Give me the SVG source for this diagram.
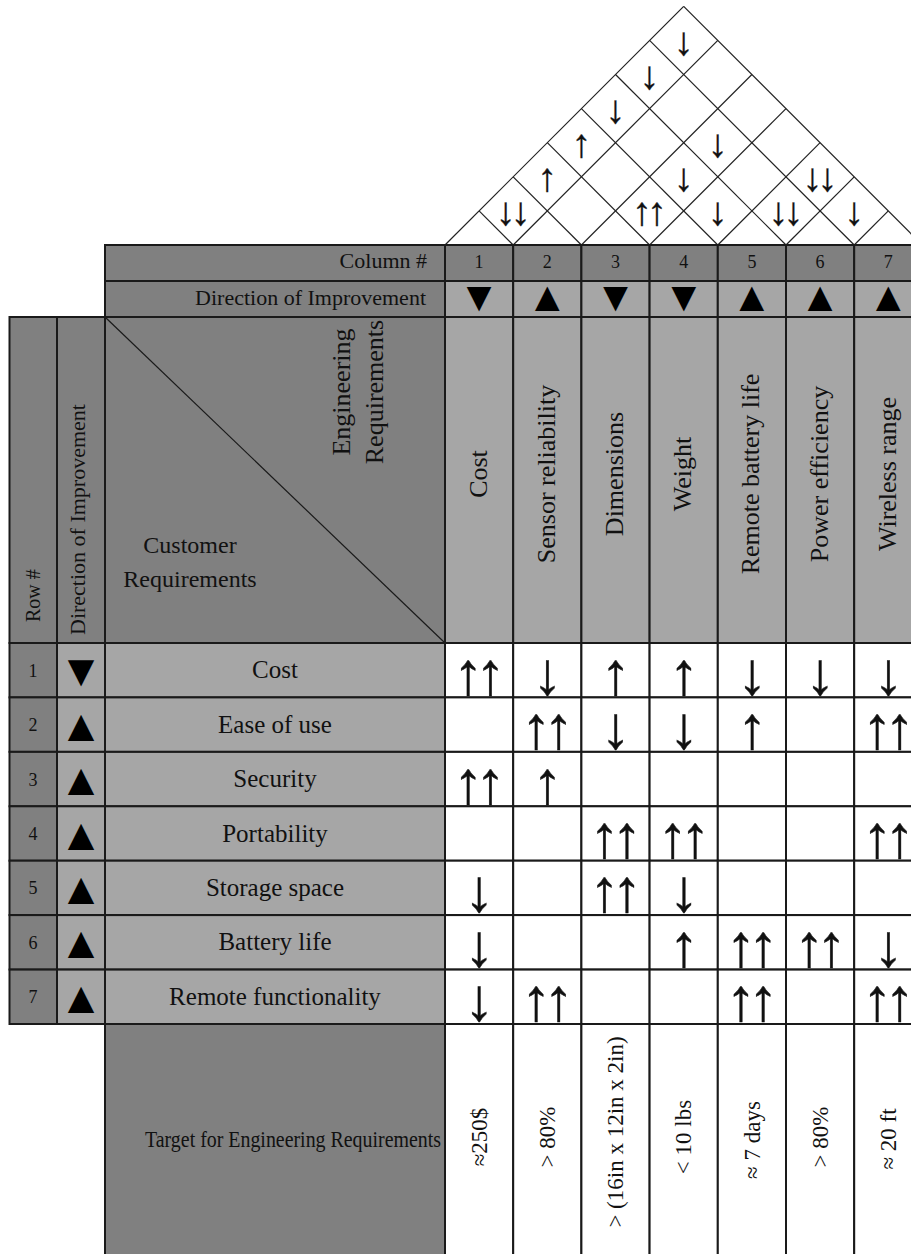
<svg xmlns="http://www.w3.org/2000/svg" width="911" height="1254" viewBox="0 0 911 1254">
<style>
.dk{fill:#808080;stroke:#1a1a1a;stroke-width:2}
.lt{fill:#a6a6a6;stroke:#1a1a1a;stroke-width:2}
.wt{fill:#ffffff;stroke:#1a1a1a;stroke-width:2}
.t{font-family:"Liberation Serif","Times New Roman",serif;fill:#111111}
.m{text-anchor:middle}
.e{text-anchor:end}
.ar{font-family:"Liberation Serif","DejaVu Sans",serif;fill:#111111;stroke:#111111;stroke-width:0.4;text-anchor:middle;font-size:60px}
.ra{font-family:"Liberation Serif","DejaVu Sans",serif;fill:#111111;stroke:#111111;stroke-width:0.3;text-anchor:middle;font-size:40px}
.tri{font-family:"Liberation Serif","DejaVu Sans",serif;fill:#000000;text-anchor:middle;font-size:45px}
.trh{font-family:"Liberation Serif","DejaVu Sans",serif;fill:#000000;text-anchor:middle;font-size:42px}
.rl line{stroke:#222222;stroke-width:1.2}
</style>
<rect x="0" y="0" width="911" height="1254" fill="#ffffff"/>

<g id="roof" class="rl">
<line x1="445" y1="245" x2="683.7" y2="6.3"/>
<line x1="513.2" y1="245" x2="717.8" y2="40.4"/>
<line x1="581.4" y1="245" x2="751.9" y2="74.5"/>
<line x1="649.6" y1="245" x2="786" y2="108.6"/>
<line x1="717.8" y1="245" x2="820.1" y2="142.7"/>
<line x1="786" y1="245" x2="854.2" y2="176.8"/>
<line x1="854.2" y1="245" x2="888.3" y2="210.9"/>
<line x1="513.2" y1="245" x2="479.1" y2="210.9"/>
<line x1="581.4" y1="245" x2="513.2" y2="176.8"/>
<line x1="649.6" y1="245" x2="547.3" y2="142.7"/>
<line x1="717.8" y1="245" x2="581.4" y2="108.6"/>
<line x1="786" y1="245" x2="615.5" y2="74.5"/>
<line x1="854.2" y1="245" x2="649.6" y2="40.4"/>
<line x1="922.4" y1="245" x2="683.7" y2="6.3"/>
</g>
<g id="roof-correlations">
<text class="ra" x="505.7 520.7" y="225.3">↓↓</text>
<text class="ra" x="547.3" y="191.2">↑</text>
<text class="ra" x="581.4" y="157.1">↑</text>
<text class="ra" x="615.5" y="123">↓</text>
<text class="ra" x="649.6" y="88.9">↓</text>
<text class="ra" x="683.7" y="54.8">↓</text>
<text class="ra" x="642.1 657.1" y="225.3">↑↑</text>
<text class="ra" x="683.7" y="191.2">↓</text>
<text class="ra" x="717.8" y="157.1">↓</text>
<text class="ra" x="717.8" y="225.3">↓</text>
<text class="ra" x="778.5 793.5" y="225.3">↓↓</text>
<text class="ra" x="812.6 827.6" y="191.2">↓↓</text>
<text class="ra" x="854.2" y="225.3">↓</text>
</g>

<g id="column-numbers">
<rect class="dk" x="105" y="245" width="340" height="36"/>
<rect class="dk" x="445" y="245" width="68.2" height="36"/>
<rect class="dk" x="513.2" y="245" width="68.2" height="36"/>
<rect class="dk" x="581.4" y="245" width="68.2" height="36"/>
<rect class="dk" x="649.6" y="245" width="68.2" height="36"/>
<rect class="dk" x="717.8" y="245" width="68.2" height="36"/>
<rect class="dk" x="786" y="245" width="68.2" height="36"/>
<rect class="dk" x="854.2" y="245" width="68.2" height="36"/>
<text class="t e" x="427" y="268" font-size="22">Column #</text>
<text class="t m" x="479.1" y="268" font-size="18">1</text>
<text class="t m" x="547.3" y="268" font-size="18">2</text>
<text class="t m" x="615.5" y="268" font-size="18">3</text>
<text class="t m" x="683.7" y="268" font-size="18">4</text>
<text class="t m" x="751.9" y="268" font-size="18">5</text>
<text class="t m" x="820.1" y="268" font-size="18">6</text>
<text class="t m" x="888.3" y="268" font-size="18">7</text>
</g>

<g id="column-directions">
<rect class="dk" x="105" y="281" width="340" height="36"/>
<rect class="lt" x="445" y="281" width="68.2" height="36"/>
<rect class="lt" x="513.2" y="281" width="68.2" height="36"/>
<rect class="lt" x="581.4" y="281" width="68.2" height="36"/>
<rect class="lt" x="649.6" y="281" width="68.2" height="36"/>
<rect class="lt" x="717.8" y="281" width="68.2" height="36"/>
<rect class="lt" x="786" y="281" width="68.2" height="36"/>
<rect class="lt" x="854.2" y="281" width="68.2" height="36"/>
<text class="t e" x="426" y="305" font-size="22">Direction of Improvement</text>
<text class="trh" x="479.1" y="311.4">▼</text>
<text class="trh" x="547.3" y="311.4">▲</text>
<text class="trh" x="615.5" y="311.4">▼</text>
<text class="trh" x="683.7" y="311.4">▼</text>
<text class="trh" x="751.9" y="311.4">▲</text>
<text class="trh" x="820.1" y="311.4">▲</text>
<text class="trh" x="888.3" y="311.4">▲</text>
</g>

<g id="header">
<rect class="dk" x="9.5" y="317" width="47.5" height="326"/>
<rect class="dk" x="57" y="317" width="48" height="326"/>
<rect class="dk" x="105" y="317" width="340" height="326"/>
<line x1="105" y1="317" x2="445" y2="643" stroke="#1a1a1a" stroke-width="1.2"/>
<text class="t" x="40" y="622" font-size="20" transform="rotate(-90 40 622)">Row #</text>
<text class="t" x="85" y="635" font-size="22" transform="rotate(-90 85 635)">Direction of Improvement</text>
<text class="t m" x="350" y="392" font-size="26" transform="rotate(-90 350 392)">Engineering</text>
<text class="t m" x="383" y="392" font-size="26" transform="rotate(-90 383 392)">Requirements</text>
<text class="t m" x="190" y="553" font-size="24">Customer</text>
<text class="t m" x="190" y="587" font-size="24">Requirements</text>
</g>

<g id="engineering-requirements">
<rect class="lt" x="445" y="317" width="68.2" height="326"/>
<rect class="lt" x="513.2" y="317" width="68.2" height="326"/>
<rect class="lt" x="581.4" y="317" width="68.2" height="326"/>
<rect class="lt" x="649.6" y="317" width="68.2" height="326"/>
<rect class="lt" x="717.8" y="317" width="68.2" height="326"/>
<rect class="lt" x="786" y="317" width="68.2" height="326"/>
<rect class="lt" x="854.2" y="317" width="68.2" height="326"/>
<text class="t m" x="486.6" y="474" font-size="26" transform="rotate(-90 486.6 474)">Cost</text>
<text class="t m" x="554.8" y="474" font-size="26" transform="rotate(-90 554.8 474)">Sensor reliability</text>
<text class="t m" x="623" y="474" font-size="26" transform="rotate(-90 623 474)">Dimensions</text>
<text class="t m" x="691.2" y="474" font-size="26" transform="rotate(-90 691.2 474)">Weight</text>
<text class="t m" x="759.4" y="474" font-size="26" transform="rotate(-90 759.4 474)">Remote battery life</text>
<text class="t m" x="827.6" y="474" font-size="26" transform="rotate(-90 827.6 474)">Power efficiency</text>
<text class="t m" x="895.8" y="474" font-size="26" transform="rotate(-90 895.8 474)">Wireless range</text>
</g>

<g id="row-1">
<rect class="dk" x="9.5" y="643" width="47.5" height="54.4"/>
<rect class="lt" x="57" y="643" width="48" height="54.4"/>
<rect class="lt" x="105" y="643" width="340" height="54.4"/>
<rect class="wt" x="445" y="643" width="68.2" height="54.4"/>
<rect class="wt" x="513.2" y="643" width="68.2" height="54.4"/>
<rect class="wt" x="581.4" y="643" width="68.2" height="54.4"/>
<rect class="wt" x="649.6" y="643" width="68.2" height="54.4"/>
<rect class="wt" x="717.8" y="643" width="68.2" height="54.4"/>
<rect class="wt" x="786" y="643" width="68.2" height="54.4"/>
<rect class="wt" x="854.2" y="643" width="68.2" height="54.4"/>
<text class="t m" x="33" y="676.7" font-size="18">1</text>
<text class="tri" x="81" y="686.3">▼</text>
<text class="t m" x="275" y="678.2" font-size="25">Cost</text>
<text class="ar" x="467.9 490.3" y="693.6">↑↑</text>
<text class="ar" x="547.3" y="693.6">↓</text>
<text class="ar" x="615.5" y="693.6">↑</text>
<text class="ar" x="683.7" y="693.6">↑</text>
<text class="ar" x="751.9" y="693.6">↓</text>
<text class="ar" x="820.1" y="693.6">↓</text>
<text class="ar" x="888.3" y="693.6">↓</text>
</g>

<g id="row-2">
<rect class="dk" x="9.5" y="697.4" width="47.5" height="54.4"/>
<rect class="lt" x="57" y="697.4" width="48" height="54.4"/>
<rect class="lt" x="105" y="697.4" width="340" height="54.4"/>
<rect class="wt" x="445" y="697.4" width="68.2" height="54.4"/>
<rect class="wt" x="513.2" y="697.4" width="68.2" height="54.4"/>
<rect class="wt" x="581.4" y="697.4" width="68.2" height="54.4"/>
<rect class="wt" x="649.6" y="697.4" width="68.2" height="54.4"/>
<rect class="wt" x="717.8" y="697.4" width="68.2" height="54.4"/>
<rect class="wt" x="786" y="697.4" width="68.2" height="54.4"/>
<rect class="wt" x="854.2" y="697.4" width="68.2" height="54.4"/>
<text class="t m" x="33" y="731.1" font-size="18">2</text>
<text class="tri" x="81" y="740.7">▲</text>
<text class="t m" x="275" y="732.6" font-size="25">Ease of use</text>
<text class="ar" x="536.1 558.5" y="748">↑↑</text>
<text class="ar" x="615.5" y="748">↓</text>
<text class="ar" x="683.7" y="748">↓</text>
<text class="ar" x="751.9" y="748">↑</text>
<text class="ar" x="877.1 899.5" y="748">↑↑</text>
</g>

<g id="row-3">
<rect class="dk" x="9.5" y="751.9" width="47.5" height="54.4"/>
<rect class="lt" x="57" y="751.9" width="48" height="54.4"/>
<rect class="lt" x="105" y="751.9" width="340" height="54.4"/>
<rect class="wt" x="445" y="751.9" width="68.2" height="54.4"/>
<rect class="wt" x="513.2" y="751.9" width="68.2" height="54.4"/>
<rect class="wt" x="581.4" y="751.9" width="68.2" height="54.4"/>
<rect class="wt" x="649.6" y="751.9" width="68.2" height="54.4"/>
<rect class="wt" x="717.8" y="751.9" width="68.2" height="54.4"/>
<rect class="wt" x="786" y="751.9" width="68.2" height="54.4"/>
<rect class="wt" x="854.2" y="751.9" width="68.2" height="54.4"/>
<text class="t m" x="33" y="785.6" font-size="18">3</text>
<text class="tri" x="81" y="795.2">▲</text>
<text class="t m" x="275" y="787.1" font-size="25">Security</text>
<text class="ar" x="467.9 490.3" y="802.5">↑↑</text>
<text class="ar" x="547.3" y="802.5">↑</text>
</g>

<g id="row-4">
<rect class="dk" x="9.5" y="806.3" width="47.5" height="54.4"/>
<rect class="lt" x="57" y="806.3" width="48" height="54.4"/>
<rect class="lt" x="105" y="806.3" width="340" height="54.4"/>
<rect class="wt" x="445" y="806.3" width="68.2" height="54.4"/>
<rect class="wt" x="513.2" y="806.3" width="68.2" height="54.4"/>
<rect class="wt" x="581.4" y="806.3" width="68.2" height="54.4"/>
<rect class="wt" x="649.6" y="806.3" width="68.2" height="54.4"/>
<rect class="wt" x="717.8" y="806.3" width="68.2" height="54.4"/>
<rect class="wt" x="786" y="806.3" width="68.2" height="54.4"/>
<rect class="wt" x="854.2" y="806.3" width="68.2" height="54.4"/>
<text class="t m" x="33" y="840" font-size="18">4</text>
<text class="tri" x="81" y="849.6">▲</text>
<text class="t m" x="275" y="841.5" font-size="25">Portability</text>
<text class="ar" x="604.3 626.7" y="856.9">↑↑</text>
<text class="ar" x="672.5 694.9" y="856.9">↑↑</text>
<text class="ar" x="877.1 899.5" y="856.9">↑↑</text>
</g>

<g id="row-5">
<rect class="dk" x="9.5" y="860.7" width="47.5" height="54.4"/>
<rect class="lt" x="57" y="860.7" width="48" height="54.4"/>
<rect class="lt" x="105" y="860.7" width="340" height="54.4"/>
<rect class="wt" x="445" y="860.7" width="68.2" height="54.4"/>
<rect class="wt" x="513.2" y="860.7" width="68.2" height="54.4"/>
<rect class="wt" x="581.4" y="860.7" width="68.2" height="54.4"/>
<rect class="wt" x="649.6" y="860.7" width="68.2" height="54.4"/>
<rect class="wt" x="717.8" y="860.7" width="68.2" height="54.4"/>
<rect class="wt" x="786" y="860.7" width="68.2" height="54.4"/>
<rect class="wt" x="854.2" y="860.7" width="68.2" height="54.4"/>
<text class="t m" x="33" y="894.4" font-size="18">5</text>
<text class="tri" x="81" y="904">▲</text>
<text class="t m" x="275" y="895.9" font-size="25">Storage space</text>
<text class="ar" x="479.1" y="911.3">↓</text>
<text class="ar" x="604.3 626.7" y="911.3">↑↑</text>
<text class="ar" x="683.7" y="911.3">↓</text>
</g>

<g id="row-6">
<rect class="dk" x="9.5" y="915.1" width="47.5" height="54.4"/>
<rect class="lt" x="57" y="915.1" width="48" height="54.4"/>
<rect class="lt" x="105" y="915.1" width="340" height="54.4"/>
<rect class="wt" x="445" y="915.1" width="68.2" height="54.4"/>
<rect class="wt" x="513.2" y="915.1" width="68.2" height="54.4"/>
<rect class="wt" x="581.4" y="915.1" width="68.2" height="54.4"/>
<rect class="wt" x="649.6" y="915.1" width="68.2" height="54.4"/>
<rect class="wt" x="717.8" y="915.1" width="68.2" height="54.4"/>
<rect class="wt" x="786" y="915.1" width="68.2" height="54.4"/>
<rect class="wt" x="854.2" y="915.1" width="68.2" height="54.4"/>
<text class="t m" x="33" y="948.9" font-size="18">6</text>
<text class="tri" x="81" y="958.4">▲</text>
<text class="t m" x="275" y="950.4" font-size="25">Battery life</text>
<text class="ar" x="479.1" y="965.7">↓</text>
<text class="ar" x="683.7" y="965.7">↑</text>
<text class="ar" x="740.7 763.1" y="965.7">↑↑</text>
<text class="ar" x="808.9 831.3" y="965.7">↑↑</text>
<text class="ar" x="888.3" y="965.7">↓</text>
</g>

<g id="row-7">
<rect class="dk" x="9.5" y="969.6" width="47.5" height="54.4"/>
<rect class="lt" x="57" y="969.6" width="48" height="54.4"/>
<rect class="lt" x="105" y="969.6" width="340" height="54.4"/>
<rect class="wt" x="445" y="969.6" width="68.2" height="54.4"/>
<rect class="wt" x="513.2" y="969.6" width="68.2" height="54.4"/>
<rect class="wt" x="581.4" y="969.6" width="68.2" height="54.4"/>
<rect class="wt" x="649.6" y="969.6" width="68.2" height="54.4"/>
<rect class="wt" x="717.8" y="969.6" width="68.2" height="54.4"/>
<rect class="wt" x="786" y="969.6" width="68.2" height="54.4"/>
<rect class="wt" x="854.2" y="969.6" width="68.2" height="54.4"/>
<text class="t m" x="33" y="1003.3" font-size="18">7</text>
<text class="tri" x="81" y="1012.9">▲</text>
<text class="t m" x="275" y="1004.8" font-size="25">Remote functionality</text>
<text class="ar" x="479.1" y="1020.2">↓</text>
<text class="ar" x="536.1 558.5" y="1020.2">↑↑</text>
<text class="ar" x="740.7 763.1" y="1020.2">↑↑</text>
<text class="ar" x="877.1 899.5" y="1020.2">↑↑</text>
</g>

<g id="targets">
<rect class="dk" x="105" y="1024" width="340" height="240"/>
<rect class="wt" x="445" y="1024" width="68.2" height="240"/>
<rect class="wt" x="513.2" y="1024" width="68.2" height="240"/>
<rect class="wt" x="581.4" y="1024" width="68.2" height="240"/>
<rect class="wt" x="649.6" y="1024" width="68.2" height="240"/>
<rect class="wt" x="717.8" y="1024" width="68.2" height="240"/>
<rect class="wt" x="786" y="1024" width="68.2" height="240"/>
<rect class="wt" x="854.2" y="1024" width="68.2" height="240"/>
<text class="t e" x="441" y="1147" font-size="23" textLength="296" lengthAdjust="spacingAndGlyphs">Target for Engineering Requirements</text>
<text class="t m" x="486.7" y="1137" font-size="23" transform="rotate(-90 486.7 1137)">≈250$</text>
<text class="t m" x="554.9" y="1137" font-size="23" transform="rotate(-90 554.9 1137)">&gt; 80%</text>
<text class="t m" x="623.1" y="1132" font-size="23" transform="rotate(-90 623.1 1132)">&gt; (16in x 12in x 2in)</text>
<text class="t m" x="691.3" y="1137" font-size="23" transform="rotate(-90 691.3 1137)">&lt; 10 lbs</text>
<text class="t m" x="759.5" y="1140" font-size="23" transform="rotate(-90 759.5 1140)">≈ 7 days</text>
<text class="t m" x="827.7" y="1137" font-size="23" transform="rotate(-90 827.7 1137)">&gt; 80%</text>
<text class="t m" x="895.9" y="1139" font-size="23" transform="rotate(-90 895.9 1139)">≈ 20 ft</text>
</g>
</svg>
